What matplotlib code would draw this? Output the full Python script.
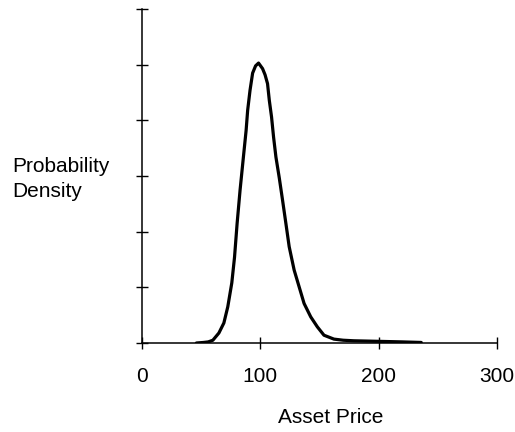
import matplotlib.pyplot as plt

# Werte
preis = [46, 52, 56, 59.9, 65.0, 69.2, 72.5, 75.9, 78.2, 80.4, 82.9, 85.7, 88.0, 89.3,
         91.3, 93.5, 96, 98.5, 101.9, 104, 106.1, 107.6, 109.5, 111.2, 113.2, 116.0,
         118.7, 121.6, 124.4, 128.6, 132.8, 137.0, 142.6, 148.2, 153.8, 162.2, 170,
         179, 200, 220, 236]
dichte = [0.0, 0.01, 0.02, 0.05, 0.18, 0.36, 0.65, 1.08, 1.54, 2.15, 2.75, 3.34, 3.82, 4.18,
          4.54, 4.85, 4.98, 5.03, 4.93, 4.82, 4.66, 4.36, 4.06, 3.70, 3.34, 2.97,
          2.58, 2.15, 1.73, 1.31, 1.01, 0.71, 0.47, 0.29, 0.14, 0.07, 0.05,
          0.04, 0.03, 0.02, 0.01]
x_ticks = [0, 100, 200, 300]
y_ticks = [0, 1, 2, 3, 4, 5, 6]

plt.rcParams['font.family'] = ['Liberation Sans', 'DejaVu Sans']

fig = plt.figure(figsize=(5.15, 4.32), dpi=100)
ax = fig.add_axes([0.2757, 0.206, 0.6893, 0.773])

ax.plot(preis, dichte, color='black', linewidth=2.3, solid_capstyle='round',
        solid_joinstyle='round')

ax.set_xlim(0, 300)
ax.set_ylim(0, 6)
ax.set_xticks(x_ticks)
ax.set_yticks(y_ticks)
ax.set_yticklabels([])
ax.tick_params(axis='both', direction='inout', length=8, width=1, color='black')
ax.tick_params(axis='x', labelsize=15, pad=13)

for seite in ['top', 'right']:
    ax.spines[seite].set_visible(False)
for seite in ['left', 'bottom']:
    ax.spines[seite].set_linewidth(1.1)
ax.spines['left'].set_bounds(0, 6)
ax.spines['bottom'].set_bounds(0, 300)

# Achsentitel
fig.text(331 / 515, 1 - 423 / 432, 'Asset Price', ha='center', va='baseline', fontsize=15)
fig.text(12 / 515, 1 - 172 / 432, 'Probability', ha='left', va='baseline', fontsize=15)
fig.text(12 / 515, 1 - 197 / 432, 'Density', ha='left', va='baseline', fontsize=15)

fig.savefig('out.png', dpi=100)
